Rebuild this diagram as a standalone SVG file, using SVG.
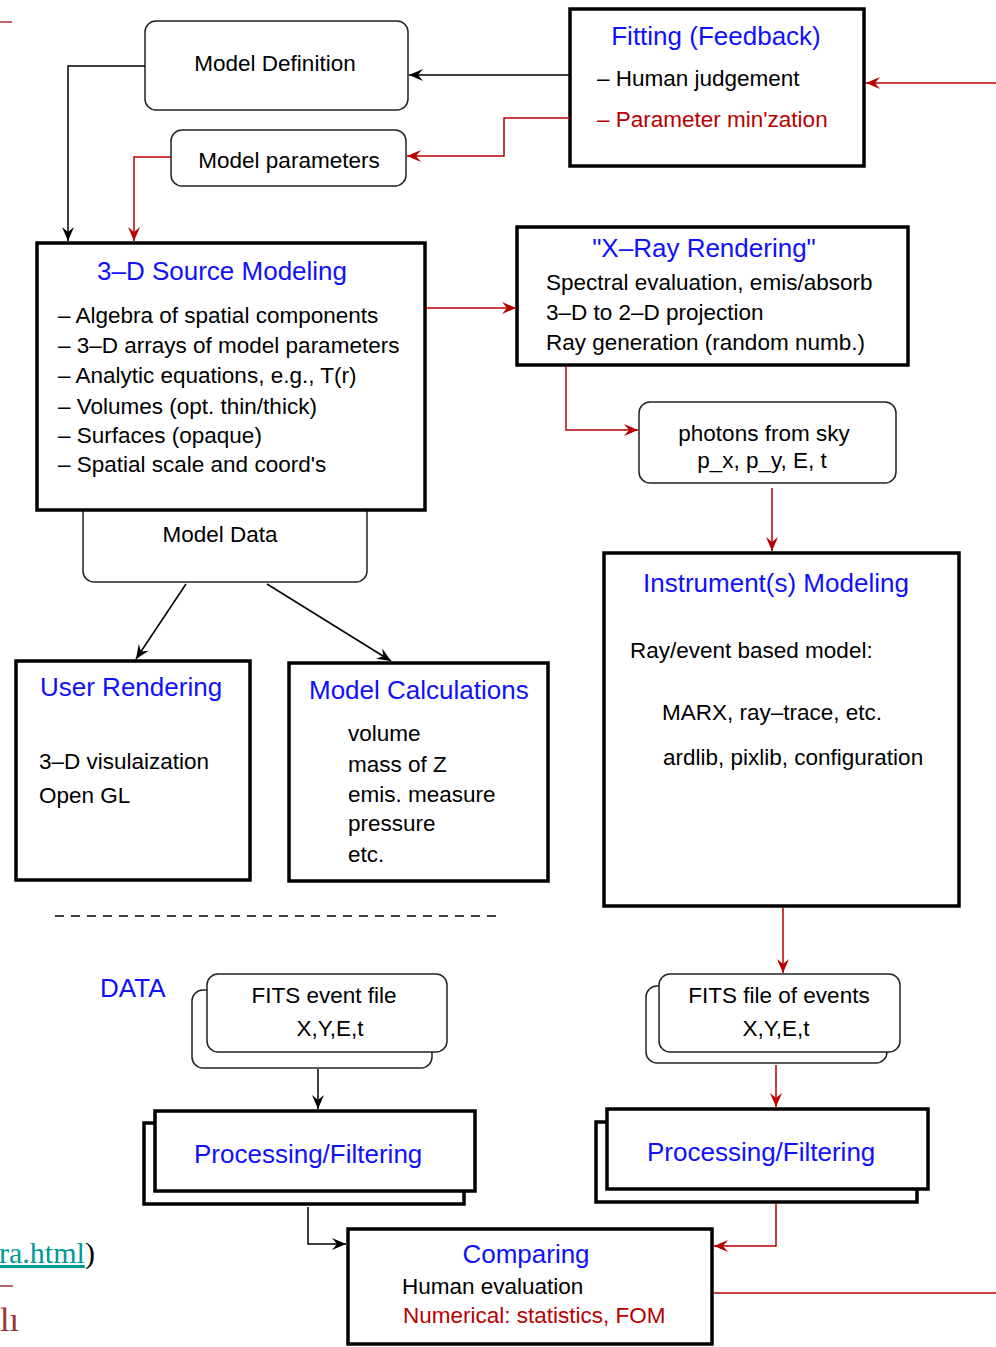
<svg xmlns="http://www.w3.org/2000/svg" width="996" height="1347" viewBox="0 0 996 1347">
<style>
text{font-family:"Liberation Sans",Arial,sans-serif;font-size:22.5px;fill:#000}
.t{font-size:26px;fill:#1010ff}
.r{fill:#b80000}
.c{text-anchor:middle}
.box{fill:#fff;stroke:#000;stroke-width:3.5}
.rnd{fill:#fff;stroke:#222;stroke-width:1.5}
.k{fill:none;stroke:#000;stroke-width:1.5}
.rd{fill:none;stroke:#b80000;stroke-width:1.5}
.ka{marker-end:url(#ak)}
.ra{marker-end:url(#ar)}
.serif{font-family:"Liberation Serif","Times New Roman",serif}
</style>
<defs>
<marker id="ak" markerUnits="userSpaceOnUse" viewBox="-15 -8 17 16" markerWidth="17" markerHeight="16" refX="0" refY="0" orient="auto">
<path d="M0,0 L-14,-6 L-9,0 L-14,6 Z" fill="#000"/>
</marker>
<marker id="ar" markerUnits="userSpaceOnUse" viewBox="-15 -8 17 16" markerWidth="17" markerHeight="16" refX="0" refY="0" orient="auto">
<path d="M0,0 L-14,-6 L-9,0 L-14,6 Z" fill="#b80000"/>
</marker>
</defs>

<!-- page artifacts at left edge -->
<g id="edge">
<line x1="0" y1="22" x2="12" y2="22" stroke="#b03030" stroke-width="1.5"/>
<text class="serif" x="-1" y="1263" style="font-size:30px;fill:#009999;text-decoration:underline">ra.html</text>
<text class="serif" x="85" y="1263" style="font-size:30px">)</text>
<line x1="0" y1="1286" x2="13" y2="1286" stroke="#993333" stroke-width="1.5"/>
<text class="serif" x="0" y="1331" style="font-size:34px;fill:#993333">lı</text>
</g>

<g id="model-definition">
<rect class="rnd" x="145" y="21" width="263" height="89" rx="11"/>
<text class="c" x="275" y="71">Model Definition</text>
</g>

<g id="model-parameters">
<rect class="rnd" x="171" y="130" width="235" height="56" rx="11"/>
<text class="c" x="289" y="168">Model parameters</text>
</g>

<g id="fitting">
<rect class="box" x="570" y="9" width="294" height="157"/>
<text class="t c" x="716" y="45">Fitting (Feedback)</text>
<text x="597" y="86">– Human judgement</text>
<text class="r" x="597" y="127">– Parameter min'zation</text>
</g>

<g id="model-data">
<rect class="rnd" x="83" y="500" width="284" height="82" rx="11"/>
<text class="c" x="220" y="542">Model Data</text>
</g>

<g id="source-modeling">
<rect class="box" x="37" y="243" width="388" height="267"/>
<text class="t" x="97" y="280">3–D Source Modeling</text>
<text x="58" y="323">– Algebra of spatial components</text>
<text x="58" y="353">– 3–D arrays of model parameters</text>
<text x="58" y="383">– Analytic equations, e.g., T(r)</text>
<text x="58" y="414">– Volumes (opt. thin/thick)</text>
<text x="58" y="443">– Surfaces (opaque)</text>
<text x="58" y="472">– Spatial scale and coord's</text>
</g>

<g id="xray-rendering">
<rect class="box" x="517" y="227" width="391" height="138"/>
<text class="t c" x="704" y="257">"X–Ray Rendering"</text>
<text x="546" y="290">Spectral evaluation, emis/absorb</text>
<text x="546" y="320">3–D to 2–D projection</text>
<text x="546" y="350">Ray generation (random numb.)</text>
</g>

<g id="photons">
<rect class="rnd" x="639" y="402" width="257" height="81" rx="11"/>
<text class="c" x="764" y="441">photons from sky</text>
<text class="c" x="762" y="468">p_x, p_y, E, t</text>
</g>

<g id="instrument-modeling">
<rect class="box" x="604" y="553" width="355" height="353"/>
<text class="t" x="643" y="592">Instrument(s) Modeling</text>
<text x="630" y="658">Ray/event based model:</text>
<text x="662" y="720">MARX, ray–trace, etc.</text>
<text x="663" y="765">ardlib, pixlib, configuration</text>
</g>

<g id="user-rendering">
<rect class="box" x="16" y="661" width="234" height="219"/>
<text class="t" x="40" y="696">User Rendering</text>
<text x="39" y="769">3–D visulaization</text>
<text x="39" y="803">Open GL</text>
</g>

<g id="model-calculations">
<rect class="box" x="289" y="663" width="259" height="218"/>
<text class="t" x="309" y="699">Model Calculations</text>
<text x="348" y="741">volume</text>
<text x="348" y="772">mass of Z</text>
<text x="348" y="802">emis. measure</text>
<text x="348" y="831">pressure</text>
<text x="348" y="862">etc.</text>
</g>

<g id="separator">
<line x1="55" y1="916" x2="500" y2="916" stroke="#000" stroke-width="1.5" stroke-dasharray="9 7"/>
</g>

<g id="data-label">
<text class="t" x="100" y="997">DATA</text>
</g>

<g id="fits-event-file">
<rect class="rnd" x="192" y="990" width="240" height="78" rx="11"/>
<rect class="rnd" x="207" y="974" width="240" height="78" rx="11"/>
<text class="c" x="324" y="1003">FITS event file</text>
<text class="c" x="330" y="1036">X,Y,E,t</text>
</g>

<g id="fits-file-events">
<rect class="rnd" x="646" y="986" width="241" height="77" rx="11"/>
<rect class="rnd" x="659" y="974" width="241" height="78" rx="11"/>
<text class="c" x="779" y="1003">FITS file of events</text>
<text class="c" x="776" y="1036">X,Y,E,t</text>
</g>

<g id="processing-left">
<rect class="box" x="144" y="1123" width="320" height="81"/>
<rect class="box" x="155" y="1111" width="320" height="80"/>
<text class="t" x="194" y="1163">Processing/Filtering</text>
</g>

<g id="processing-right">
<rect class="box" x="596" y="1122" width="321" height="80"/>
<rect class="box" x="607" y="1109" width="321" height="80"/>
<text class="t" x="647" y="1161">Processing/Filtering</text>
</g>

<g id="comparing">
<rect class="box" x="348" y="1229" width="364" height="115"/>
<text class="t c" x="526" y="1263">Comparing</text>
<text x="402" y="1294">Human evaluation</text>
<text class="r" x="403" y="1323">Numerical: statistics, FOM</text>
</g>

<g id="connectors">
<path class="k ka" d="M145,66 H68 V241"/>
<path class="rd ra" d="M171,157 H134 V241"/>
<path class="k ka" d="M570,75 H409"/>
<path class="rd ra" d="M570,118 H504 V156 H407"/>
<path class="rd ra" d="M996,83 H866"/>
<path class="rd ra" d="M426,308 H516"/>
<path class="rd ra" d="M566,366 V430 H638"/>
<path class="rd ra" d="M772,488 V551"/>
<path class="k ka" d="M186,584 L136,659"/>
<path class="k ka" d="M267,584 L391,661"/>
<path class="rd ra" d="M783,908 V973"/>
<path class="rd ra" d="M776,1065 V1107"/>
<path class="rd ra" d="M776,1204 V1246 H714"/>
<path class="k ka" d="M318,1069 V1109"/>
<path class="k ka" d="M308,1207 V1244 H346"/>
<path class="rd" d="M714,1293 H996"/>
</g>
</svg>
